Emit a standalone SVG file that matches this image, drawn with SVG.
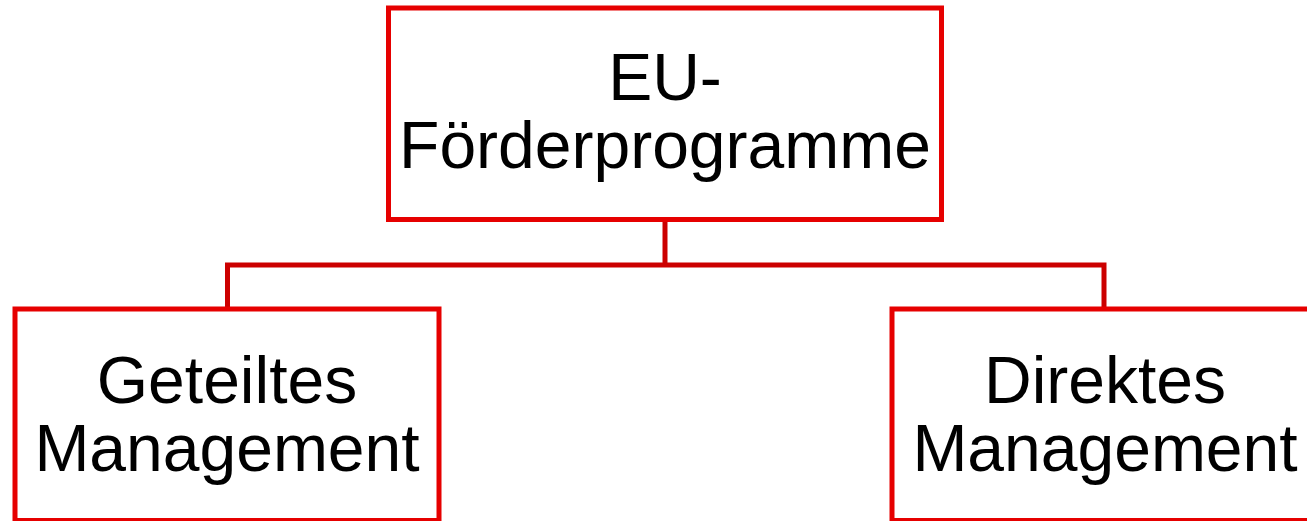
<svg xmlns="http://www.w3.org/2000/svg" width="1307" height="521" viewBox="0 0 1307 521">
<style>
.box{fill:#ffffff;stroke:#e60000;stroke-width:5}
.conn{fill:none;stroke:#cc0000;stroke-width:5}
.lbl{font-family:"Liberation Sans",Arial,sans-serif;font-size:66px;fill:#000000;text-anchor:middle}
</style>
<rect width="1307" height="521" fill="#ffffff"/>
<g id="connectors">
<path class="conn" d="M665,220 V265"/>
<path class="conn" d="M227.5,309 V265 H1104 V309"/>
</g>
<g id="node-top">
<rect class="box" x="388.5" y="8" width="553" height="211.5"/>
<text class="lbl" x="665" y="100">EU-</text>
<text class="lbl" x="665" y="168">Förderprogramme</text>
</g>
<g id="node-left">
<rect class="box" x="15" y="309" width="424" height="211.5"/>
<text class="lbl" x="227" y="403">Geteiltes</text>
<text class="lbl" x="227" y="471">Management</text>
</g>
<g id="node-right">
<rect class="box" x="892" y="309" width="426" height="211.5"/>
<text class="lbl" x="1105" y="403">Direktes</text>
<text class="lbl" x="1105" y="471">Management</text>
</g>
</svg>
